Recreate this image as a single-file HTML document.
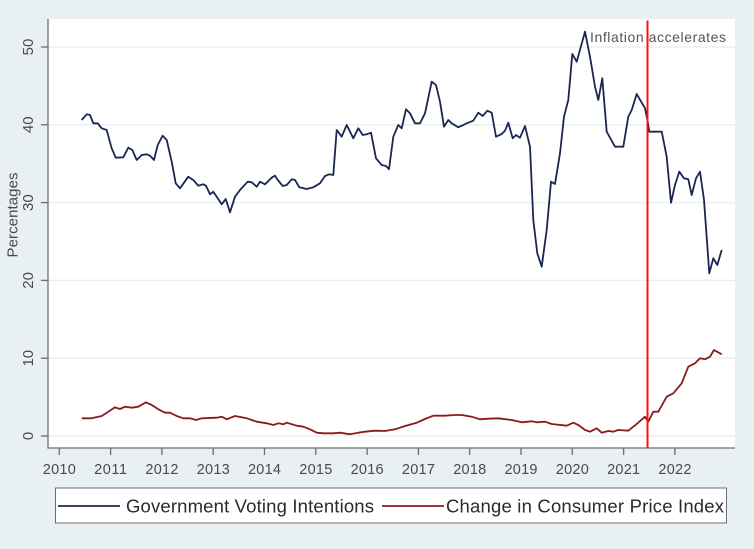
<!DOCTYPE html>
<html><head><meta charset="utf-8"><style>
html,body{margin:0;padding:0;background:#e9f0f3;}
svg{display:block;font-family:"Liberation Sans",Arial,sans-serif;}
</style></head><body>
<svg width="754" height="549" viewBox="0 0 754 549" xmlns="http://www.w3.org/2000/svg">
<rect x="0" y="0" width="754" height="549" fill="#e9f0f3"/>
<rect x="48" y="19" width="687" height="429" fill="#ffffff"/>
<g stroke="#e8f0f3" stroke-width="1.5">
<line x1="48" y1="47" x2="735" y2="47"/>
<line x1="48" y1="124.8" x2="735" y2="124.8"/>
<line x1="48" y1="202.6" x2="735" y2="202.6"/>
<line x1="48" y1="280.4" x2="735" y2="280.4"/>
<line x1="48" y1="358.2" x2="735" y2="358.2"/>
<line x1="48" y1="436" x2="735" y2="436"/>
</g>
<g stroke="#6e6e6e" stroke-width="1.3" fill="none">
<line x1="48" y1="19" x2="48" y2="448.5"/>
<line x1="47.5" y1="448" x2="735" y2="448"/>
<line x1="41" y1="47" x2="48" y2="47"/>
<line x1="41" y1="124.8" x2="48" y2="124.8"/>
<line x1="41" y1="202.6" x2="48" y2="202.6"/>
<line x1="41" y1="280.4" x2="48" y2="280.4"/>
<line x1="41" y1="358.2" x2="48" y2="358.2"/>
<line x1="41" y1="436" x2="48" y2="436"/>
<line x1="59.3" y1="448" x2="59.3" y2="455"/>
<line x1="110.6" y1="448" x2="110.6" y2="455"/>
<line x1="161.9" y1="448" x2="161.9" y2="455"/>
<line x1="213.2" y1="448" x2="213.2" y2="455"/>
<line x1="264.5" y1="448" x2="264.5" y2="455"/>
<line x1="315.8" y1="448" x2="315.8" y2="455"/>
<line x1="367.1" y1="448" x2="367.1" y2="455"/>
<line x1="418.4" y1="448" x2="418.4" y2="455"/>
<line x1="469.7" y1="448" x2="469.7" y2="455"/>
<line x1="521" y1="448" x2="521" y2="455"/>
<line x1="572.3" y1="448" x2="572.3" y2="455"/>
<line x1="623.6" y1="448" x2="623.6" y2="455"/>
<line x1="674.9" y1="448" x2="674.9" y2="455"/>
</g>
<g fill="#4a4a4a" font-size="14.5" text-anchor="middle">
<text x="59.3" y="474" textLength="33">2010</text>
<text x="110.6" y="474" textLength="33">2011</text>
<text x="161.9" y="474" textLength="33">2012</text>
<text x="213.2" y="474" textLength="33">2013</text>
<text x="264.5" y="474" textLength="33">2014</text>
<text x="315.8" y="474" textLength="33">2015</text>
<text x="367.1" y="474" textLength="33">2016</text>
<text x="418.4" y="474" textLength="33">2017</text>
<text x="469.7" y="474" textLength="33">2018</text>
<text x="521" y="474" textLength="33">2019</text>
<text x="572.3" y="474" textLength="33">2020</text>
<text x="623.6" y="474" textLength="33">2021</text>
<text x="674.9" y="474" textLength="33">2022</text>
</g>
<g fill="#4a4a4a" font-size="15" text-anchor="middle">
<text transform="translate(33,47) rotate(-90)">50</text>
<text transform="translate(33,124.8) rotate(-90)">40</text>
<text transform="translate(33,202.6) rotate(-90)">30</text>
<text transform="translate(33,280.4) rotate(-90)">20</text>
<text transform="translate(33,358.2) rotate(-90)">10</text>
<text transform="translate(33,436) rotate(-90)">0</text>
<text transform="translate(17.5,215) rotate(-90)" textLength="85">Percentages</text>
</g>
<polyline fill="none" stroke="#1a2752" stroke-width="1.8" stroke-linejoin="round" points="81.7,120 86.7,114.3 90,115 93.3,123.3 97.7,123.3 101.7,128.3 106.7,130 111.7,148.3 115.7,157.7 123.3,157.3 128.3,147.7 132.3,150 136.7,160 141.7,155 146.7,154.3 150,155.7 154,160 157.7,145 162.7,135.7 166.7,140 171.7,161.7 175.7,183.3 180,188.3 188.3,176.7 193.3,180 198.3,185.7 203.3,184.3 206,185.7 210,194.3 213.3,191.7 216.7,196.7 221.7,204.3 225.7,199 230,212.3 235,196.7 240,190 247.7,181.7 251.7,182.3 256.7,186.7 260,181.7 265,184.3 271.7,177.7 275,175.7 277.3,179.3 282.7,186 286.7,185 291.7,179.3 295,180 299.3,187.3 306.7,189 313.3,187.3 320,183.3 325,176 329.3,174.3 333.3,175 336.7,130 339.3,133.3 341.7,136.7 346.7,125 353.3,138.3 358.3,128.3 362.7,135 366.7,134.3 371,132.7 376,158.3 381.7,165 386,166 389,169.3 393.3,136.7 398.3,125 401.7,128.3 406,109.3 410,113.3 415,123.3 420,123.3 425,113.3 431.7,81.7 436,85 440,101.7 444,126.7 448.3,120 451.7,123.3 458.3,127.3 463.3,125 466.7,123.3 473.3,120.7 478.3,112.7 482.7,116 487.3,110.7 491.7,112.7 496,136.7 501.7,134 505,130.7 508.3,122.7 512.7,138.3 516,135 520,137.7 525,126 530,146.7 533.3,220 537.3,253.3 541.7,266.7 546.7,230 551,181.7 555,184 560,153.3 564,116.7 568.3,100 572.3,54 576.7,61.7 585,31.7 590,56.7 595,86.7 598.3,100 602.3,78.3 606.7,131.7 615,146.7 623.3,146.7 628.3,116.7 631.7,110 636.7,94 645,108.3 647.3,119.3 649.3,131.7 661.7,131.7 666.7,156.7 671,202.7 675,185 679.3,171.7 684,178.3 688.3,179.3 691.7,195 696,178.3 700,171.7 704,200 709.3,273.3 713.3,258.3 717.3,265 721.7,250"/>
<polyline fill="none" stroke="#8b1a1f" stroke-width="1.8" stroke-linejoin="round" points="81.7,418.3 91.7,418.3 101.7,416 108.3,411.7 115,407.3 120,409 125,406.7 131.7,407.7 138.3,406.7 146,402.3 151.7,405 158.3,409.3 165,412.7 170,412.7 176.7,416 183.3,418.3 190,418.3 196,420 201.7,418.3 216.7,417.7 221.7,416.7 226.7,419.3 235,416 246.7,418.3 256.7,421.7 266.7,423.3 273.3,425 278.3,423.3 283.3,424.3 286.7,422.7 296.7,425.7 303.3,426.7 310,429.3 316.7,432.7 323.3,433.3 333.3,433.3 340,432.7 350,434.3 358.3,432.7 365,431.7 375,430.7 385,431 395,429.3 405,426 416.7,422.7 425,419 433.3,415.7 445,415.7 455,415 461.7,415 471.7,416.7 480,419.3 488.3,418.7 498.3,418.3 511.7,420 521.7,422.3 531.7,421.3 536.7,422.3 545,421.7 551.7,424 566.7,425.7 573.3,422.7 578.3,425 585,430 590,431.7 596.7,428.3 601.7,432.7 608.3,431 613.3,431.7 618.3,430 628.3,430.7 636.7,424 645,416.7 648.3,421.7 653.3,411.7 658.3,411.7 666.7,396.7 673.3,393.3 681.7,383.3 688.3,366.7 695,363.3 700,358.3 705,359.3 710,356.7 714,350 721.7,354.3"/>
<line x1="647.5" y1="20.5" x2="647.5" y2="448" stroke="#ff1010" stroke-width="2"/>
<text x="590" y="42" font-size="14" fill="#555555" textLength="136">Inflation accelerates</text>
<rect x="55.5" y="488" width="671" height="35" fill="#ffffff" stroke="#6e6e6e" stroke-width="1"/>
<line x1="58" y1="506" x2="120" y2="506" stroke="#1a2752" stroke-width="1.8"/>
<text x="126" y="512.5" font-size="18.5" fill="#2a2a2a" textLength="248">Government Voting Intentions</text>
<line x1="382" y1="506" x2="444" y2="506" stroke="#8b1a1f" stroke-width="1.8"/>
<text x="446" y="512.5" font-size="18.5" fill="#2a2a2a" textLength="278">Change in Consumer Price Index</text>
</svg>
</body></html>
